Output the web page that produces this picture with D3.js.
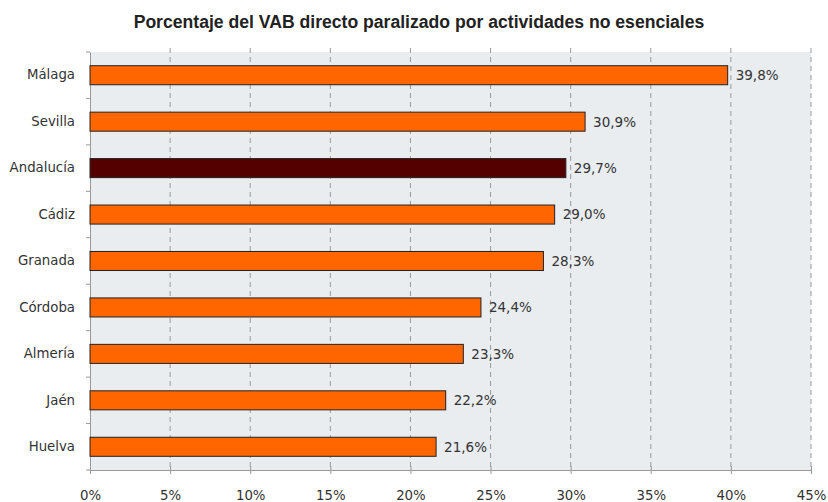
<!DOCTYPE html>
<html><head><meta charset="utf-8">
<script src="https://cdn.jsdelivr.net/npm/d3@7"></script>
<style>body{margin:0;background:#fff}</style>
</head><body>
<svg id="c" width="828" height="502"></svg>
<script>
const categories = ["Málaga","Sevilla","Andalucía","Cádiz","Granada","Córdoba","Almería","Jaén","Huelva"];
const values = [39.8,30.9,29.7,29.0,28.3,24.4,23.3,22.2,21.6];
const highlight = ["Andalucía"];
const xTicks = [0,5,10,15,20,25,30,35,40,45];
const title = "Porcentaje del VAB directo paralizado por actividades no esenciales";

const svg = d3.select("#c");
const m = {l:90, r:811, t:52, b:470};
const x = d3.scaleLinear().domain([0,45]).range([m.l, m.r]);
const y = d3.scaleBand().domain(categories).range([m.t, m.b]).paddingInner(0.59).paddingOuter(0.295);

svg.append("rect").attr("x",m.l).attr("y",m.t).attr("width",m.r-m.l).attr("height",m.b-m.t).attr("fill","#e9edf0");

svg.append("text").attr("x",419).attr("y",28).attr("text-anchor","middle")
  .attr("font-family","Liberation Sans, Arial, sans-serif").attr("font-weight","bold").attr("font-size",17.6).attr("fill","#222").text(title);

// grid
svg.append("g").selectAll("line").data(xTicks.filter(d=>d>0)).join("line")
  .attr("x1",d=>x(d)).attr("x2",d=>x(d)).attr("y1",m.t-4).attr("y2",m.b)
  .attr("stroke","#9a9a9a").attr("stroke-dasharray","5,4").attr("stroke-width",1);

// x axis
const xa = svg.append("g").attr("transform",`translate(0,${m.b})`)
  .call(d3.axisBottom(x).tickValues(xTicks).tickFormat(d=>d+"%").tickSize(4).tickSizeOuter(0));
xa.select(".domain").attr("stroke","#999");
xa.selectAll(".tick line").attr("stroke","#999").attr("y1",-4);
xa.selectAll("text").attr("font-family","DejaVu Sans, Verdana, sans-serif").attr("font-size",13.3).attr("fill","#333").attr("dy","1.75em");

// y axis
const ya = svg.append("g").attr("transform",`translate(${m.l},0)`)
  .call(d3.axisLeft(y).tickSize(0).tickPadding(15));
ya.select(".domain").attr("stroke","#999");
ya.selectAll("text").attr("font-family","DejaVu Sans, Verdana, sans-serif").attr("font-size",13.3).attr("fill","#333");
const step = y.step();
svg.append("g").selectAll("line").data(d3.range(categories.length+1)).join("line")
  .attr("x1",m.l-4).attr("x2",m.l).attr("y1",i=>m.t+i*step).attr("y2",i=>m.t+i*step).attr("stroke","#999");

// bars
svg.append("g").selectAll("rect").data(categories).join("rect")
  .attr("x",x(0)).attr("y",d=>y(d)).attr("width",(d,i)=>x(values[i])-x(0)).attr("height",y.bandwidth())
  .attr("fill",d=>highlight.includes(d)?"#550000":"#ff6600").attr("stroke","#222").attr("stroke-width",1);

svg.append("g").selectAll("text").data(categories).join("text")
  .attr("x",(d,i)=>x(values[i])+8).attr("y",d=>y(d)+y.bandwidth()/2).attr("dy","0.36em")
  .attr("font-family","DejaVu Sans, Verdana, sans-serif").attr("font-size",13.5).attr("fill","#333")
  .text((d,i)=>values[i].toFixed(1).replace(".",",")+"%");
</script>
</body></html>
